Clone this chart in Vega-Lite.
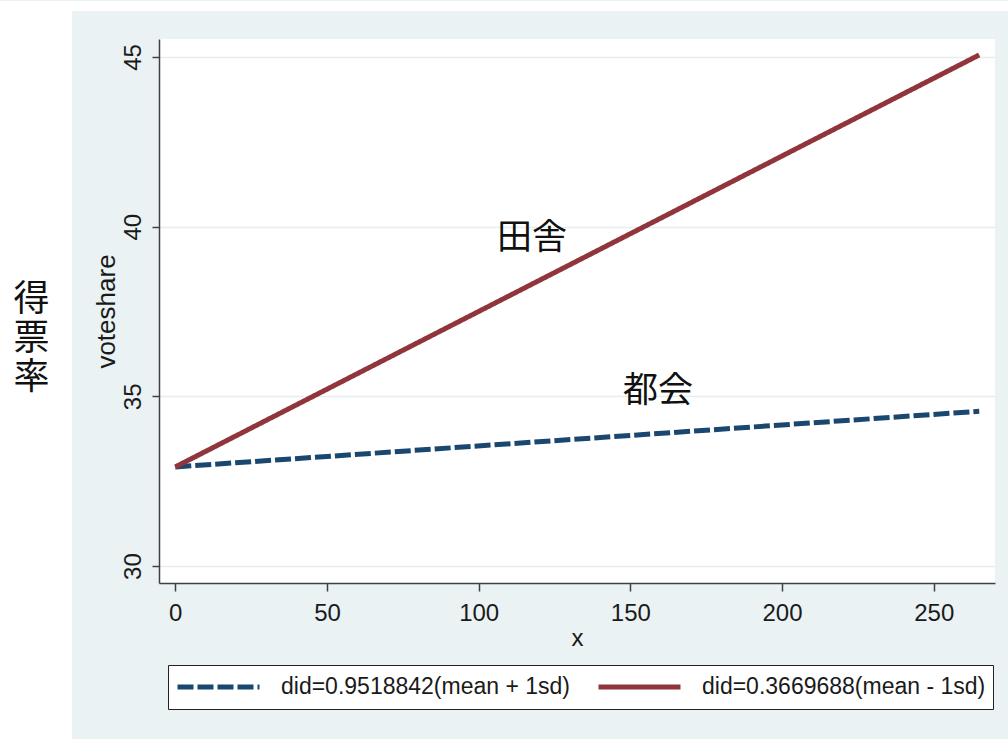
{
  "$schema": "https://vega.github.io/schema/vega-lite/v6.json",
  "background": "#eaf2f3",
  "padding": 0,
  "config": {
    "font": "Liberation Sans",
    "view": {"stroke": null},
    "axis": {
      "labelFont": "Liberation Sans",
      "labelFontSize": 24,
      "labelColor": "#1a1a1a",
      "titleFont": "Liberation Sans",
      "titleFontSize": 24,
      "titleFontWeight": "normal",
      "titleColor": "#1a1a1a",
      "domainColor": "#404040",
      "domainWidth": 1.5,
      "tickColor": "#404040",
      "tickWidth": 1.5,
      "tickSize": 7
    }
  },
  "vconcat": [
    {
      "width": 1008,
      "height": 10,
      "view": {"fill": "white", "stroke": null},
      "data": {"values": [{}]},
      "mark": {"type": "text"},
      "encoding": {"text": {"value": ""}}
    },
    {
      "hconcat": [
        {
          "width": 72,
          "height": 729,
          "view": {"fill": "white", "stroke": null},
          "data": {"values": [{"label": "得\n票\n率"}]},
          "mark": {
            "type": "text",
            "font": "Noto Sans CJK JP",
            "fontSize": 36,
            "lineHeight": 39,
            "lineBreak": "\n",
            "color": "#111111",
            "align": "center",
            "baseline": "middle",
            "dx": -4.5,
            "dy": -76
          },
          "encoding": {"text": {"field": "label"}}
        },
        {
          "vconcat": [
            {
              "width": 836,
              "height": 1,
              "data": {"values": [{}]},
              "mark": {"type": "text"},
              "encoding": {"text": {"value": ""}}
            },
            {
              "width": 836,
              "height": 544,
              "view": {"fill": "white", "stroke": null},
              "layer": [
                {
                  "data": {
                    "values": [
                      {"series": "did=0.9518842(mean + 1sd)", "x": 0, "voteshare": 32.92},
                      {"series": "did=0.9518842(mean + 1sd)", "x": 265, "voteshare": 34.56},
                      {"series": "did=0.3669688(mean - 1sd)", "x": 0, "voteshare": 32.92},
                      {"series": "did=0.3669688(mean - 1sd)", "x": 265, "voteshare": 45.06}
                    ]
                  },
                  "mark": {"type": "line", "strokeWidth": 5, "strokeCap": "butt"},
                  "encoding": {
                    "x": {
                      "field": "x",
                      "type": "quantitative",
                      "scale": {"domain": [-5.37, 270.2], "nice": false, "zero": false},
                      "axis": {
                        "title": "x",
                        "values": [0, 50, 100, 150, 200, 250],
                        "grid": false,
                        "tickSize": 8,
                        "labelPadding": 10,
                        "titlePadding": 1,
                        "labelFlush": false,
                        "labelOverlap": false
                      }
                    },
                    "y": {
                      "field": "voteshare",
                      "type": "quantitative",
                      "scale": {"domain": [29.5, 45.53], "nice": false, "zero": false},
                      "axis": {
                        "title": "voteshare",
                        "titleFontSize": 26,
                        "values": [30, 35, 40, 45],
                        "grid": true,
                        "gridColor": "#e6eef0",
                        "gridWidth": 1.5,
                        "labelAngle": -90,
                        "labelAlign": "center",
                        "labelBaseline": "bottom",
                        "labelPadding": 7,
                        "titlePadding": 2,
                        "labelOverlap": false
                      }
                    },
                    "color": {
                      "field": "series",
                      "type": "nominal",
                      "scale": {
                        "domain": ["did=0.9518842(mean + 1sd)", "did=0.3669688(mean - 1sd)"],
                        "range": ["#1a476f", "#90353b"]
                      },
                      "legend": {
                        "orient": "none",
                        "legendX": 168,
                        "legendY": 664,
                        "direction": "horizontal",
                        "title": null,
                        "symbolType": "stroke",
                        "symbolSize": 6724,
                        "symbolStrokeWidth": 5,
                        "labelFont": "Liberation Sans",
                        "labelFontSize": 23,
                        "labelColor": "#1a1a1a",
                        "labelOffset": 19,
                        "labelLimit": 400,
                        "columnPadding": 26,
                        "padding": 7,
                        "strokeColor": "#222222",
                        "fillColor": "white",
                        "clipHeight": 30
                      }
                    },
                    "strokeDash": {
                      "field": "series",
                      "type": "nominal",
                      "scale": {
                        "domain": ["did=0.9518842(mean + 1sd)", "did=0.3669688(mean - 1sd)"],
                        "range": [[16, 4], [1, 0]]
                      },
                      "legend": {
                        "orient": "none",
                        "legendX": 168,
                        "legendY": 664,
                        "direction": "horizontal",
                        "title": null,
                        "symbolType": "stroke",
                        "symbolSize": 6724,
                        "symbolStrokeWidth": 5,
                        "labelFont": "Liberation Sans",
                        "labelFontSize": 23,
                        "labelColor": "#1a1a1a",
                        "labelOffset": 19,
                        "labelLimit": 400,
                        "columnPadding": 26,
                        "padding": 7,
                        "strokeColor": "#222222",
                        "fillColor": "white",
                        "clipHeight": 30
                      }
                    }
                  }
                },
                {
                  "data": {
                    "values": [
                      {"label": "田舎", "x": 117.6, "voteshare": 39.67},
                      {"label": "都会", "x": 159.1, "voteshare": 35.16}
                    ]
                  },
                  "mark": {
                    "type": "text",
                    "font": "Noto Sans CJK JP",
                    "fontSize": 35,
                    "color": "#111111",
                    "align": "center",
                    "baseline": "middle"
                  },
                  "encoding": {
                    "x": {"field": "x", "type": "quantitative"},
                    "y": {"field": "voteshare", "type": "quantitative"},
                    "text": {"field": "label"}
                  }
                }
              ]
            }
          ],
          "spacing": 27,
          "bounds": "flush"
        }
      ],
      "spacing": 87,
      "bounds": "flush"
    }
  ],
  "spacing": 0,
  "bounds": "flush"
}
